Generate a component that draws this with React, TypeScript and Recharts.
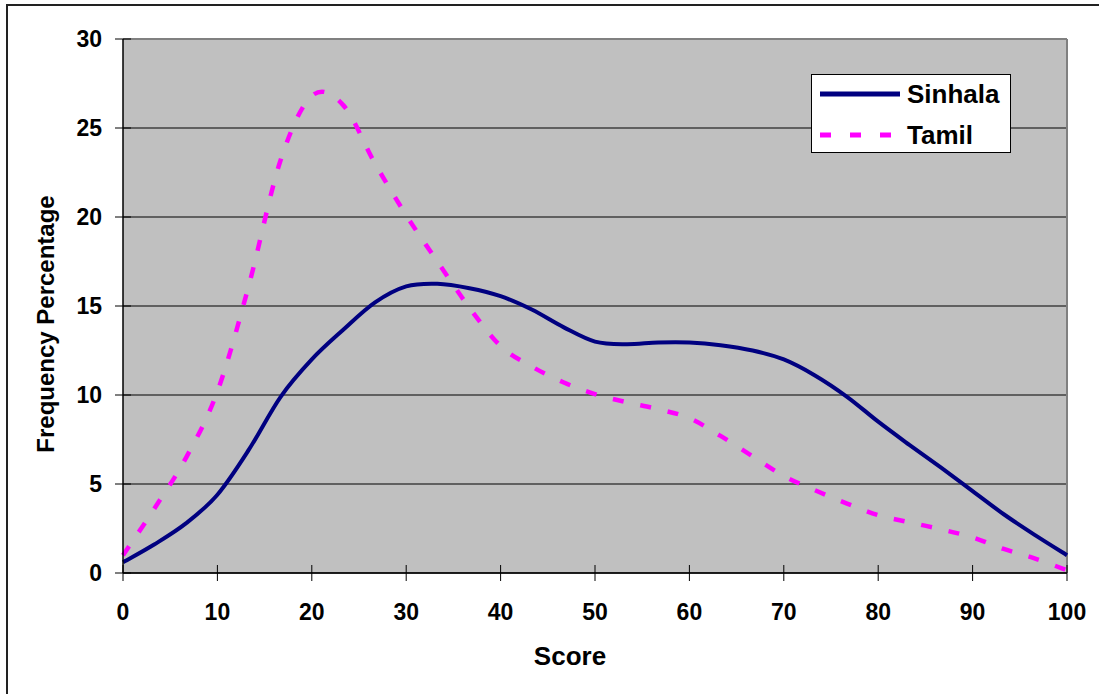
import React from 'react';
import { LineChart, Line, XAxis, YAxis, CartesianGrid, Legend, ReferenceLine, Label } from 'recharts';

const scores = [0, 3.3, 6.7, 10, 13.3, 16.7, 20, 23.3, 26.7, 30, 33.3, 36.7, 40, 43.3, 46.7, 50, 53.3, 56.7, 60, 63.3, 66.7, 70, 73.3, 76.7, 80, 83.3, 86.7, 90, 93.3, 96.7, 100];
const sinhala = [0.6, 1.6, 2.8, 4.4, 6.9, 9.9, 12.0, 13.65, 15.2, 16.1, 16.25, 16.0, 15.55, 14.8, 13.8, 13.0, 12.85, 12.95, 12.95, 12.8, 12.5, 12.0, 11.1, 9.9, 8.5, 7.2, 5.9, 4.6, 3.3, 2.1, 1.0];
const tamil = [1.0, 3.6, 6.5, 10.2, 16.1, 23.2, 26.8, 26.3, 23.0, 20.1, 17.5, 14.9, 12.75, 11.6, 10.7, 10.05, 9.6, 9.2, 8.7, 7.7, 6.55, 5.45, 4.65, 3.9, 3.25, 2.85, 2.45, 2.0, 1.35, 0.8, 0.15];
const xTicks = [0, 10, 20, 30, 40, 50, 60, 70, 80, 90, 100];
const yTicks = [0, 5, 10, 15, 20, 25, 30];

const data = scores.map((s, i) => ({ score: s, Sinhala: sinhala[i], Tamil: tamil[i] }));

const FONT = '"Liberation Sans", Arial, sans-serif';

// Catmull-Rom style smoothing (similar to Excel's smoothed line)
function smoothCurve(context: any) {
  let pts: number[][] = [];
  return {
    areaStart() {},
    areaEnd() {},
    lineStart() { pts = []; },
    lineEnd() {
      const n = pts.length;
      if (!n) return;
      context.moveTo(pts[0][0], pts[0][1]);
      for (let i = 0; i < n - 1; i++) {
        const p0 = pts[i - 1] || pts[i];
        const p1 = pts[i];
        const p2 = pts[i + 1];
        const p3 = pts[i + 2] || p2;
        context.bezierCurveTo(
          p1[0] + (p2[0] - p0[0]) / 6, p1[1] + (p2[1] - p0[1]) / 6,
          p2[0] - (p3[0] - p1[0]) / 6, p2[1] - (p3[1] - p1[1]) / 6,
          p2[0], p2[1]
        );
      }
    },
    point(x: number, y: number) { pts.push([+x, +y]); },
  };
}

const YTick = (props: any) => {
  const { x, y, payload } = props;
  const ax = x + 21; // axis position
  return (
    <g>
      <line x1={ax - 8} x2={ax + 8} y1={y} y2={y} stroke="#000" strokeWidth={1} />
      <text x={x} y={y} dy="0.36em" textAnchor="end" fontFamily={FONT} fontWeight="bold" fontSize={23} fill="#000">
        {payload.value}
      </text>
    </g>
  );
};

const XTick = (props: any) => {
  const { x, y, payload } = props;
  const ay = y - 30; // axis position
  return (
    <g>
      <line x1={x} x2={x} y1={ay - 8} y2={ay + 8} stroke="#000" strokeWidth={1} />
      <text x={x} y={y} dy="0.72em" textAnchor="middle" fontFamily={FONT} fontWeight="bold" fontSize={23} fill="#000">
        {payload.value}
      </text>
    </g>
  );
};

const LegendBox = (props: any) => {
  const payload = props.payload || [];
  return (
    <div style={{ width: 200, height: 79, border: '1.5px solid #000', background: '#fff', boxSizing: 'border-box', position: 'relative' }}>
      <svg width={200} height={79} style={{ position: 'absolute', left: -1.5, top: -1.5 }}>
        {payload.map((p: any, i: number) => {
          const cy = 20 + i * 41;
          return (
            <g key={i}>
              <line x1={9} x2={89} y1={cy} y2={cy} stroke={p.color} strokeWidth={5}
                strokeDasharray={p.value === 'Tamil' ? '11 19' : undefined} />
              <text x={96} y={cy} dy="0.36em" fontFamily={FONT} fontWeight="bold" fontSize={26} fill="#000">{p.value}</text>
            </g>
          );
        })}
      </svg>
    </div>
  );
};

export default function App() {
  return (
    <div style={{ position: 'absolute', left: 0, top: 0, width: 1099, height: 694, overflow: 'hidden', background: '#fff' }}>
      <div style={{ position: 'absolute', left: 6, top: 4, width: 1110, height: 710, border: '2px solid #222', boxSizing: 'border-box' }} />
      <div style={{ position: 'absolute', left: 0, top: 0 }}>
        <LineChart width={1099} height={694} data={data} margin={{ top: 39, right: 32, bottom: 0, left: 0 }}>
          <CartesianGrid vertical={false} horizontal={true} stroke="#000" strokeWidth={1} fill="#C0C0C0" fillOpacity={1} />
          <XAxis dataKey="score" type="number" domain={[0, 100]} ticks={xTicks} interval={0}
            height={121} tickLine={false} tickSize={8} tickMargin={22} tick={<XTick />}
            axisLine={{ stroke: '#000', strokeWidth: 1.5 }}>
            <Label content={(lp: any) => {
              const vb = lp.viewBox;
              return (
                <text x={570} y={vb.y + 83} dy="0.36em" textAnchor="middle" fontFamily={FONT} fontWeight="bold" fontSize={26} fill="#000">Score</text>
              );
            }} />
          </XAxis>
          <YAxis type="number" domain={[0, 30]} ticks={yTicks} interval={0} width={123}
            tickLine={false} tickSize={8} tickMargin={13} tick={<YTick />}
            axisLine={{ stroke: '#000', strokeWidth: 1.5 }}>
            <Label content={() => (
              <text x={45} y={324} dy="0.36em" textAnchor="middle" transform="rotate(-90 45 324)" fontFamily={FONT} fontWeight="bold" fontSize={24} fill="#000">Frequency Percentage</text>
            )} />
          </YAxis>
          <ReferenceLine y={30} stroke="#808080" strokeWidth={2} />
          <ReferenceLine x={100} stroke="#808080" strokeWidth={2} />
          <Line dataKey="Sinhala" type={smoothCurve as any} stroke="#000080" strokeWidth={4} dot={false} isAnimationActive={false} />
          <Line dataKey="Tamil" type={smoothCurve as any} stroke="#FF00FF" strokeWidth={4.5} strokeDasharray="11 17" dot={false} isAnimationActive={false} />
          <Legend layout="horizontal" verticalAlign="middle" align="center" content={<LegendBox />}
            wrapperStyle={{ position: 'absolute', left: 811, top: 74, width: 200, height: 79 }} />
        </LineChart>
      </div>
    </div>
  );
}
